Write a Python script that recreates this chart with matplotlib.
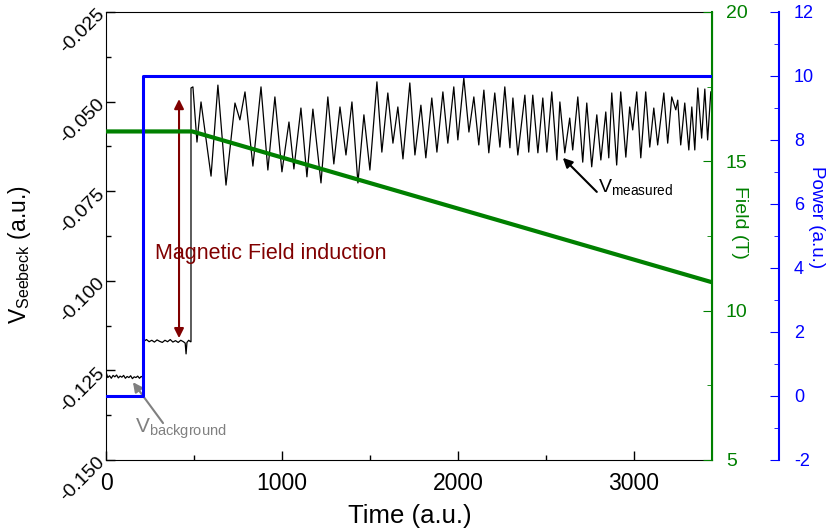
import numpy as np
import matplotlib
matplotlib.use('Agg')
import matplotlib.pyplot as plt
from matplotlib.ticker import MultipleLocator, FormatStrFormatter

plt.rcParams['font.family'] = ['Liberation Sans', 'DejaVu Sans']
plt.rcParams['mathtext.fontset'] = 'custom'
plt.rcParams['mathtext.rm'] = 'Liberation Sans'
plt.rcParams['mathtext.it'] = 'Liberation Sans:italic'
plt.rcParams['axes.unicode_minus'] = False

GREEN = '#008000'
BLUE = '#0000ff'
DARKRED = '#800000'
GREY = '#808080'

# V_Seebeck before the laser is switched on (background)
t_bg = [0, 10, 20, 30, 40, 50, 60, 70, 80, 90, 100, 110, 120, 130, 140,
        150, 160, 170, 180, 190, 200, 212]
v_bg = [-0.1255, -0.1270, -0.1265, -0.1272, -0.1264, -0.1268, -0.1263,
        -0.1271, -0.1266, -0.1269, -0.1264, -0.1272, -0.1267, -0.1270,
        -0.1265, -0.1273, -0.1268, -0.1270, -0.1266, -0.1272, -0.1267,
        -0.1270]

# laser on, field still constant
t_on = [218, 230, 245, 260, 275, 290, 305, 320, 335, 350, 365, 380, 395,
        410, 425, 440, 450, 455, 460, 470, 480]
v_on = [-0.1168, -0.1164, -0.1170, -0.1166, -0.1171, -0.1165, -0.1169,
        -0.1172, -0.1166, -0.1170, -0.1164, -0.1171, -0.1167, -0.1172,
        -0.1166, -0.1170, -0.1174, -0.1204, -0.1172, -0.1166, -0.1170]

# field sweep: oscillating signal (peaks and troughs)
t_osc = [483, 483, 494, 517, 540, 597, 636, 682, 733, 761, 790, 835, 881,
         920, 960, 1000, 1040, 1068, 1108, 1142, 1176, 1222, 1261, 1295,
         1330, 1364, 1398, 1432, 1466, 1500, 1540, 1568, 1602, 1631, 1659,
         1688, 1727, 1756, 1790, 1818, 1852, 1881, 1915, 1943, 1977, 2000,
         2034, 2063, 2091, 2119, 2148, 2176, 2210, 2239, 2267, 2296, 2313,
         2341, 2381, 2403, 2426, 2455, 2483, 2506, 2534, 2563, 2580, 2608,
         2636, 2653, 2682, 2710, 2733, 2761, 2790, 2813, 2841, 2858, 2875,
         2903, 2926, 2955, 2977, 2994, 3017, 3040, 3068, 3091, 3114, 3136,
         3171, 3193, 3216, 3239, 3250, 3267, 3290, 3313, 3330, 3347, 3364,
         3386, 3404, 3420, 3438]
v_osc = [-0.1170, -0.0462, -0.0459, -0.0613, -0.0501, -0.0708, -0.0454,
         -0.0733, -0.0504, -0.0551, -0.0473, -0.0680, -0.0459, -0.0691,
         -0.0487, -0.0696, -0.0557, -0.0688, -0.0518, -0.0710, -0.0521,
         -0.0727, -0.0487, -0.0674, -0.0515, -0.0649, -0.0501, -0.0727,
         -0.0537, -0.0691, -0.0445, -0.0641, -0.0476, -0.0616, -0.0515,
         -0.0660, -0.0448, -0.0649, -0.0510, -0.0657, -0.0490, -0.0641,
         -0.0473, -0.0616, -0.0459, -0.0607, -0.0434, -0.0585, -0.0487,
         -0.0621, -0.0468, -0.0643, -0.0476, -0.0627, -0.0459, -0.0629,
         -0.0490, -0.0649, -0.0482, -0.0641, -0.0482, -0.0643, -0.0490,
         -0.0641, -0.0473, -0.0663, -0.0501, -0.0643, -0.0546, -0.0635,
         -0.0487, -0.0669, -0.0504, -0.0682, -0.0537, -0.0663, -0.0529,
         -0.0657, -0.0476, -0.0677, -0.0473, -0.0655, -0.0515, -0.0579,
         -0.0473, -0.0657, -0.0473, -0.0627, -0.0518, -0.0621, -0.0476,
         -0.0616, -0.0487, -0.0523, -0.0496, -0.0621, -0.0504, -0.0635,
         -0.0515, -0.0635, -0.0462, -0.0602, -0.0465, -0.0607, -0.0473]

# laser power
t_power = [0, 210, 210, 3445]
power = [0, 0, 10, 10]

# magnetic field
t_field = [0, 490, 3445]
field = [16.0, 16.0, 10.95]

t_sig = t_bg + t_on + t_osc
v_sig = v_bg + v_on + v_osc

fig = plt.figure(figsize=(8.29, 5.30), dpi=100)
ax = fig.add_axes([0.1279, 0.1321, 0.7310, 0.8453])
ax.plot(t_sig, v_sig, color='black', lw=0.9)
ax.set_xlim(0, 3445)
ax.set_ylim(-0.150, -0.025)
ax.xaxis.set_major_locator(MultipleLocator(1000))
ax.xaxis.set_minor_locator(MultipleLocator(500))
ax.yaxis.set_major_locator(MultipleLocator(0.025))
ax.yaxis.set_minor_locator(MultipleLocator(0.0125))
ax.yaxis.set_major_formatter(FormatStrFormatter('%.3f'))
ax.tick_params(which='both', direction='in', top=False, right=False)
ax.tick_params(which='major', length=6.5, width=1)
ax.tick_params(which='minor', length=3.5, width=1)
ax.tick_params(axis='x', labelsize=16.5, pad=9)
ax.tick_params(axis='y', labelsize=14, pad=3)
ax.spines['right'].set_color(GREEN)
ax.text(0.5017, -0.125, 'Time (a.u.)', transform=ax.transAxes,
        ha='center', va='center', fontsize=18.5)
ax.text(-0.142, 0.4576, r'V$_{\mathrm{Seebeck}}$ (a.u.)', transform=ax.transAxes,
        rotation=90, ha='center', va='center', fontsize=16.5)

ax2 = ax.twinx()
ax2.plot(t_field, field, color=GREEN, lw=3)
ax2.set_ylim(5, 20)
ax2.yaxis.set_major_locator(MultipleLocator(5))
ax2.yaxis.set_minor_locator(MultipleLocator(2.5))
ax2.tick_params(which='both', direction='in', colors=GREEN, labelsize=14, pad=10)
ax2.tick_params(which='major', length=6.5)
ax2.tick_params(which='minor', length=3.5)
for s in ['left', 'top', 'bottom']:
    ax2.spines[s].set_visible(False)
ax2.spines['right'].set_color(GREEN)
ax2.spines['right'].set_linewidth(1.5)
ax2.text(1.046, 0.531, 'Field (T)', transform=ax2.transAxes, rotation=-90,
         ha='center', va='center', color=GREEN, fontsize=14)

ax3 = ax.twinx()
ax3.plot(t_power, power, color=BLUE, lw=2.2)
ax3.set_ylim(-2, 12)
ax3.spines['right'].set_position(('outward', 48))
for s in ['left', 'top', 'bottom']:
    ax3.spines[s].set_visible(False)
ax3.spines['right'].set_color(BLUE)
ax3.spines['right'].set_linewidth(1.5)
ax3.yaxis.set_major_locator(MultipleLocator(2))
ax3.yaxis.set_minor_locator(MultipleLocator(1))
ax3.tick_params(which='both', direction='in', colors=BLUE, labelsize=13, pad=11)
ax3.tick_params(which='major', length=6.5)
ax3.tick_params(which='minor', length=3.5)
ax3.text(1.1716, 0.542, 'Power (a.u.)', transform=ax3.transAxes, rotation=-90,
         ha='center', va='center', color=BLUE, fontsize=13.5)

# annotations
ax.annotate('', xy=(415, -0.0493), xytext=(415, -0.1160),
            arrowprops=dict(arrowstyle='<|-|>', color=DARKRED, lw=1.5,
                            mutation_scale=14, shrinkA=0, shrinkB=0))
ax.text(278, -0.0925, 'Magnetic Field induction', color=DARKRED,
        fontsize=15.5, ha='left', va='center')

ax.annotate('', xy=(2597, -0.0657), xytext=(2790, -0.0752),
            arrowprops=dict(arrowstyle='-|>', color='black', lw=1.5,
                            mutation_scale=14, shrinkA=0, shrinkB=0))
ax.text(2796, -0.0752, r'V$_{\mathrm{measured}}$', color='black',
        fontsize=14, ha='left', va='baseline')

ax.annotate('', xy=(153, -0.1283), xytext=(324, -0.1397),
            arrowprops=dict(arrowstyle='-|>', color=GREY, lw=1.5,
                            mutation_scale=14, shrinkA=0, shrinkB=0))
ax.text(165, -0.1425, r'V$_{\mathrm{background}}$', color=GREY,
        fontsize=15, ha='left', va='baseline')

fig.canvas.draw()
plt.setp(ax.get_yticklabels(), rotation=45, ha='right', va='center',
         rotation_mode='anchor')

fig.savefig('out.png', dpi=100)
